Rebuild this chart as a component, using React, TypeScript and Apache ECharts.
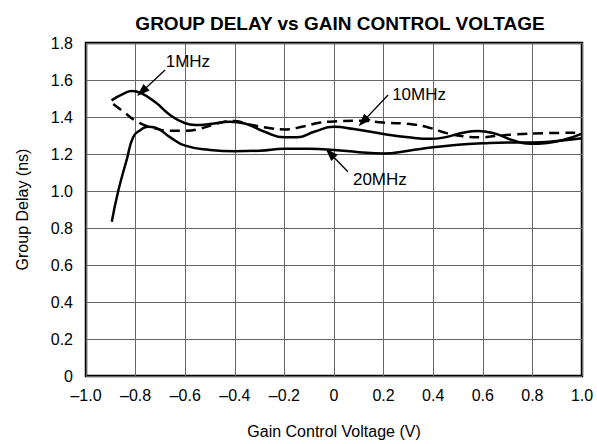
import React, { useEffect, useRef } from "react";
import * as echarts from "echarts";

const title = "GROUP DELAY vs GAIN CONTROL VOLTAGE";
const xName = "Gain Control Voltage (V)";
const yName = "Group Delay (ns)";

const mhz1: [number, number][] = [
  [-0.897, 1.49], [-0.85, 1.525], [-0.815, 1.54], [-0.78, 1.53], [-0.72, 1.48],
  [-0.66, 1.41], [-0.6, 1.366], [-0.56, 1.357], [-0.5, 1.362], [-0.42, 1.375],
  [-0.36, 1.365], [-0.28, 1.32], [-0.2, 1.29], [-0.15, 1.29], [-0.08, 1.32],
  [0.0, 1.347], [0.08, 1.335], [0.2, 1.308], [0.3, 1.29], [0.39, 1.282],
  [0.46, 1.294], [0.52, 1.315], [0.58, 1.325], [0.65, 1.31], [0.72, 1.275],
  [0.79, 1.255], [0.86, 1.26], [0.93, 1.278], [1.0, 1.31],
];

const mhz10: [number, number][] = [
  [-0.89, 1.47], [-0.85, 1.43], [-0.8, 1.38], [-0.735, 1.344], [-0.66, 1.326],
  [-0.6, 1.326], [-0.534, 1.339], [-0.47, 1.365], [-0.41, 1.378], [-0.33, 1.357],
  [-0.25, 1.338], [-0.198, 1.333], [-0.12, 1.35], [-0.06, 1.369], [0.0, 1.376],
  [0.1, 1.38], [0.2, 1.37], [0.32, 1.36], [0.39, 1.34], [0.454, 1.313],
  [0.52, 1.296], [0.59, 1.29], [0.65, 1.297], [0.72, 1.305], [0.86, 1.313],
  [1.0, 1.315],
];

const mhz20: [number, number][] = [
  [-0.896, 0.834], [-0.87, 1.0], [-0.836, 1.168], [-0.809, 1.293], [-0.78, 1.33],
  [-0.75, 1.347], [-0.72, 1.342], [-0.66, 1.29], [-0.6, 1.245], [-0.5, 1.222],
  [-0.4, 1.215], [-0.3, 1.218], [-0.2, 1.228], [-0.1, 1.228], [0.0, 1.222],
  [0.1, 1.21], [0.2, 1.203], [0.3, 1.218], [0.4, 1.236], [0.5, 1.25],
  [0.6, 1.258], [0.7, 1.262], [0.8, 1.262], [0.9, 1.27], [1.0, 1.285],
];

// annotation: label text, label position, arrow start, arrow tip
const labels = ["1MHz", "10MHz", "20MHz"];
const labelPos: [number, number][] = [[-0.589, 1.7], [0.343, 1.519], [0.185, 1.06]];
const arrowFrom: [number, number][] = [[-0.681, 1.654], [0.218, 1.519], [0.056, 1.104]];
const arrowTo: [number, number][] = [[-0.775, 1.537], [0.117, 1.375], [-0.016, 1.204]];

const font = "'Liberation Sans', Arial, Helvetica, sans-serif";

export default function App() {
  const ref = useRef<HTMLDivElement>(null);
  useEffect(() => {
    if (!ref.current) return;
    const chart = echarts.init(ref.current, undefined, { renderer: "svg" });
    const fmt = (v: number) => {
      if (Math.abs(v) < 1e-9) return "0";
      const s = Math.abs(v).toFixed(1);
      return v < 0 ? "\u2013" + s : s;
    };
    const lineStyle = { color: "#000", width: 2.5 };
    const annotSeries = labels.map((t, i) => ({
      type: "line" as const,
      data: [] as any[],
      silent: true,
      markLine: {
        silent: true,
        symbol: ["none", "triangle"],
        symbolSize: [9, 13],
        lineStyle: { color: "#000", width: 1.3, type: "solid" },
        label: { show: false },
        data: [[{ coord: arrowFrom[i] }, { coord: arrowTo[i] }]],
      },
      markPoint: {
        silent: true,
        symbol: "circle",
        symbolSize: 0,
        label: {
          show: true,
          formatter: t,
          color: "#000",
          fontSize: 17,
          fontFamily: font,
          position: "inside",
        },
        data: [{ coord: labelPos[i] }],
      },
    }));
    chart.setOption({
      animation: false,
      backgroundColor: "#fff",
      title: {
        text: title,
        left: 335,
        textAlign: "center",
        top: 9,
        textStyle: { fontSize: 19, fontWeight: "bold", fontFamily: font, color: "#000" },
      },
      grid: {
        left: 86,
        right: 15,
        top: 43,
        bottom: 68,
        show: true,
        borderColor: "#000",
        borderWidth: 2.5,
        backgroundColor: "transparent",
      },
      xAxis: {
        type: "value",
        min: -1,
        max: 1,
        interval: 0.2,
        name: xName,
        nameLocation: "middle",
        nameGap: 47,
        nameTextStyle: { fontSize: 16, fontFamily: font, color: "#000" },
        axisLine: { show: false },
        axisTick: { show: false },
        axisLabel: { formatter: fmt, fontSize: 16, fontFamily: font, color: "#000", margin: 11 },
        splitLine: { show: true, lineStyle: { color: "#666", width: 1 } },
      },
      yAxis: {
        type: "value",
        min: 0,
        max: 1.8,
        interval: 0.2,
        name: yName,
        nameLocation: "middle",
        nameGap: 56,
        nameTextStyle: { fontSize: 16, fontFamily: font, color: "#000" },
        axisLine: { show: false },
        axisTick: { show: false },
        axisLabel: { formatter: fmt, fontSize: 16, fontFamily: font, color: "#000", margin: 13 },
        splitLine: { show: true, lineStyle: { color: "#666", width: 1 } },
      },
      series: [
        { name: "1MHz", type: "line", data: mhz1, smooth: 0.5, showSymbol: false, lineStyle },
        {
          name: "10MHz",
          type: "line",
          data: mhz10,
          smooth: 0.5,
          showSymbol: false,
          lineStyle: { ...lineStyle, type: [10, 6] },
        },
        { name: "20MHz", type: "line", data: mhz20, smooth: 0.5, showSymbol: false, lineStyle },
        ...annotSeries,
      ],
    });
    return () => chart.dispose();
  }, []);
  return <div ref={ref} style={{ width: 597, height: 444, position: "absolute", left: 0, top: 0 }} />;
}
